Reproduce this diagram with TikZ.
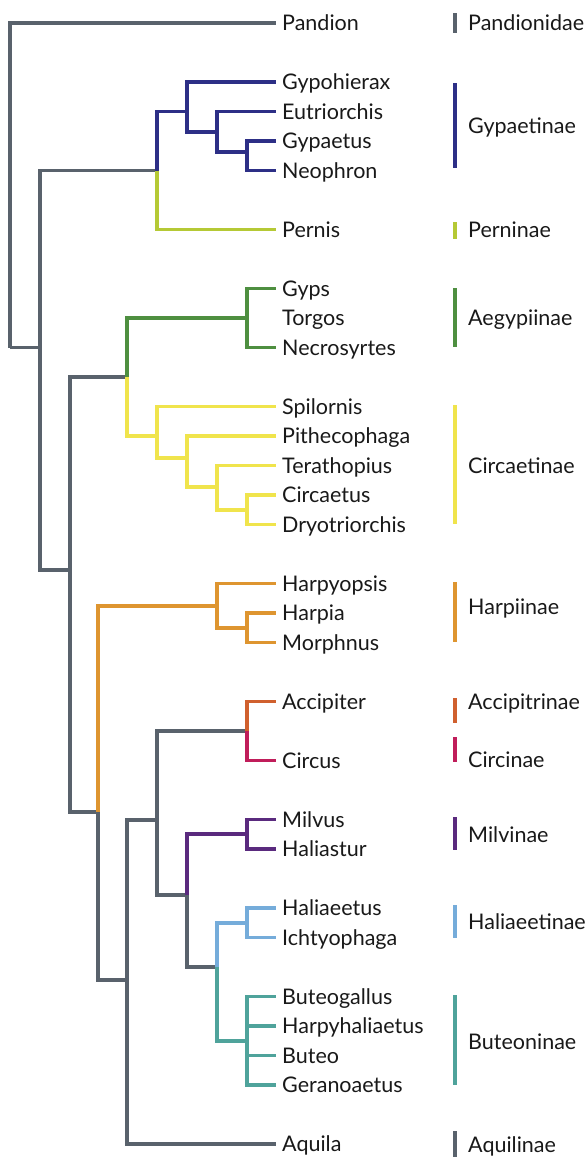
\documentclass[tikz,border=0pt]{standalone}
\usepackage{fontspec}
\setmainfont{Lato}
\usepackage{xcolor}
\usepackage{tikz}

\definecolor{slate}{HTML}{59626C}
\definecolor{gypa}{HTML}{2D2F86}
\definecolor{pern}{HTML}{B5C935}
\definecolor{aegy}{HTML}{4E8F40}
\definecolor{circ}{HTML}{F0E44C}
\definecolor{harp}{HTML}{DE9530}
\definecolor{acci}{HTML}{D0602E}
\definecolor{cirn}{HTML}{C01D5A}
\definecolor{milv}{HTML}{5A2A7E}
\definecolor{hali}{HTML}{75ACDA}
\definecolor{bute}{HTML}{4FA39B}

\begin{document}
\begin{tikzpicture}[x=1pt,y=-1pt,
  br/.style={line width=3.8pt},
  leaf/.style={anchor=west,inner xsep=6pt,inner ysep=0pt,text height=15pt,text depth=0pt,text=black!90,font=\fontsize{21.5}{21.5}\selectfont},
  clab/.style={anchor=west,inner sep=0pt,text height=15pt,text depth=0pt,text=black!90,font=\fontsize{21.5}{21.5}\selectfont},
  bar/.style={line width=3.4pt}]
  \useasboundingbox (0,0) rectangle (587,1160);
  % leaves
  \node[leaf](pandion) at (276,23){Pandion};
  \node[leaf](gypohierax) at (276,82){Gypohierax};
  \node[leaf](eutriorchis) at (276,111.5){Eutriorchis};
  \node[leaf](gypaetus) at (276,141){Gypaetus};
  \node[leaf](neophron) at (276,170.5){Neophron};
  \node[leaf](pernis) at (276,229.5){Pernis};
  \node[leaf](gyps) at (276,288.5){Gyps};
  \node[leaf](torgos) at (276,318){Torgos};
  \node[leaf](necrosyrtes) at (276,347.5){Necrosyrtes};
  \node[leaf](spilornis) at (276,406.5){Spilornis};
  \node[leaf](pithecophaga) at (276,436){Pithecophaga};
  \node[leaf](terathopius) at (276,465.5){Terathopius};
  \node[leaf](circaetus) at (276,495){Circaetus};
  \node[leaf](dryotriorchis) at (276,524.5){Dryotriorchis};
  \node[leaf](harpyopsis) at (276,583.5){Harpyopsis};
  \node[leaf](harpia) at (276,613){Harpia};
  \node[leaf](morphnus) at (276,642.5){Morphnus};
  \node[leaf](accipiter) at (276,701.5){Accipiter};
  \node[leaf](circus) at (276,760.5){Circus};
  \node[leaf](milvus) at (276,819.5){Milvus};
  \node[leaf](haliastur) at (276,849){Haliastur};
  \node[leaf](haliaeetus) at (276,908){Haliaeetus};
  \node[leaf](ichtyophaga) at (276,937.5){Ichtyophaga};
  \node[leaf](buteogallus) at (276,996.5){Buteogallus};
  \node[leaf](harpyhaliaetus) at (276,1026){Harpyhaliaetus};
  \node[leaf](buteo) at (276,1055.5){Buteo};
  \node[leaf](geranoaetus) at (276,1085){Geranoaetus};
  \node[leaf](aquila) at (276,1144){Aquila};
  % inner nodes
  \coordinate(root) at (10,347.5);
  \coordinate(a) at (40,347.5);
  \coordinate(gp) at (157,170.5);
  \coordinate(gy) at (187,111.5);
  \coordinate(gy2) at (217,132);
  \coordinate(gy3) at (247,152);
  \coordinate(b) at (70,570);
  \coordinate(c) at (127,377);
  \coordinate(ae) at (247,318);
  \coordinate(ci) at (157,436);
  \coordinate(ci2) at (187,458);
  \coordinate(ci3) at (217,487);
  \coordinate(ci4) at (247,509.75);
  \coordinate(d) at (98,812);
  \coordinate(ha) at (217,606);
  \coordinate(ha2) at (247,627.75);
  \coordinate(e) at (127,980);
  \coordinate(f) at (157,820);
  \coordinate(ac) at (247,731);
  \coordinate(g) at (187,895);
  \coordinate(mi) at (247,834.25);
  \coordinate(h) at (217,967);
  \coordinate(hl) at (247,922.75);
  \coordinate(bu) at (247,1040.75);
  % branches
  \draw[br,slate](root)|-(pandion);\draw[br,slate](root)--(a);
  \draw[br,slate](a)|-(gp);\draw[br,slate](a)|-(b);
  \draw[br,gypa](gp)|-(gy);\draw[br,pern](gp)|-(pernis);
  \draw[br,gypa](gy)|-(gypohierax);\draw[br,gypa](gy)|-(gy2);
  \draw[br,gypa](gy2)|-(eutriorchis);\draw[br,gypa](gy2)|-(gy3);
  \draw[br,gypa](gy3)|-(gypaetus);\draw[br,gypa](gy3)|-(neophron);
  \draw[br,slate](b)|-(c);\draw[br,slate](b)|-(d);
  \draw[br,aegy](c)|-(ae);\draw[br,circ](c)|-(ci);
  \draw[br,aegy](ae)|-(gyps);\draw[br,aegy](ae)|-(necrosyrtes);
  \draw[br,circ](ci)|-(spilornis);\draw[br,circ](ci)|-(ci2);
  \draw[br,circ](ci2)|-(pithecophaga);\draw[br,circ](ci2)|-(ci3);
  \draw[br,circ](ci3)|-(terathopius);\draw[br,circ](ci3)|-(ci4);
  \draw[br,circ](ci4)|-(circaetus);\draw[br,circ](ci4)|-(dryotriorchis);
  \draw[br,harp](d)|-(ha);\draw[br,slate](d)|-(e);
  \draw[br,harp](ha)|-(harpyopsis);\draw[br,harp](ha)|-(ha2);
  \draw[br,harp](ha2)|-(harpia);\draw[br,harp](ha2)|-(morphnus);
  \draw[br,slate](e)|-(f);\draw[br,slate](e)|-(aquila);
  \draw[br,slate](f)|-(ac);\draw[br,slate](f)|-(g);
  \draw[br,acci](ac)|-(accipiter);\draw[br,cirn](ac)|-(circus);
  \draw[br,milv](g)|-(mi);\draw[br,slate](g)|-(h);
  \draw[br,milv](mi)|-(milvus);\draw[br,milv](mi)|-(haliastur);
  \draw[br,hali](h)|-(hl);\draw[br,bute](h)|-(bu);
  \draw[br,hali](hl)|-(haliaeetus);\draw[br,hali](hl)|-(ichtyophaga);
  \draw[br,bute](bu)|-(buteogallus);\draw[br,bute](bu)|-(harpyhaliaetus);
  \draw[br,bute](bu)|-(buteo);\draw[br,bute](bu)|-(geranoaetus);
  % clades
  \node[clab](pandionidae) at (468,23){Pandionidae};
  \node[clab](gypaetinae) at (468,126){Gypaetinae};
  \node[clab](perninae) at (468,230){Perninae};
  \node[clab](aegypiinae) at (468,318){Aegypiinae};
  \node[clab](circaetinae) at (468,466){Circaetinae};
  \node[clab](harpiinae) at (468,607){Harpiinae};
  \node[clab](accipitrinae) at (468,702){Accipitrinae};
  \node[clab](circinae) at (468,760){Circinae};
  \node[clab](milvinae) at (468,835){Milvinae};
  \node[clab](haliaeetinae) at (468,922){Haliaeetinae};
  \node[clab](buteoninae) at (468,1042){Buteoninae};
  \node[clab](aquilinae) at (468,1145){Aquilinae};
  \draw[bar,slate](455,13)--(455,33);
  \draw[bar,gypa](455,83)--(455,168);
  \draw[bar,pern](455,222)--(455,239);
  \draw[bar,aegy](455,288)--(455,347);
  \draw[bar,circ](455,405)--(455,524);
  \draw[bar,harp](455,582)--(455,642);
  \draw[bar,acci](455,698)--(455,723);
  \draw[bar,cirn](455,737)--(455,762);
  \draw[bar,milv](455,817)--(455,850);
  \draw[bar,hali](455,905)--(455,938);
  \draw[bar,bute](455,995)--(455,1085);
  \draw[bar,slate](455,1131)--(455,1157);
\end{tikzpicture}
\end{document}
